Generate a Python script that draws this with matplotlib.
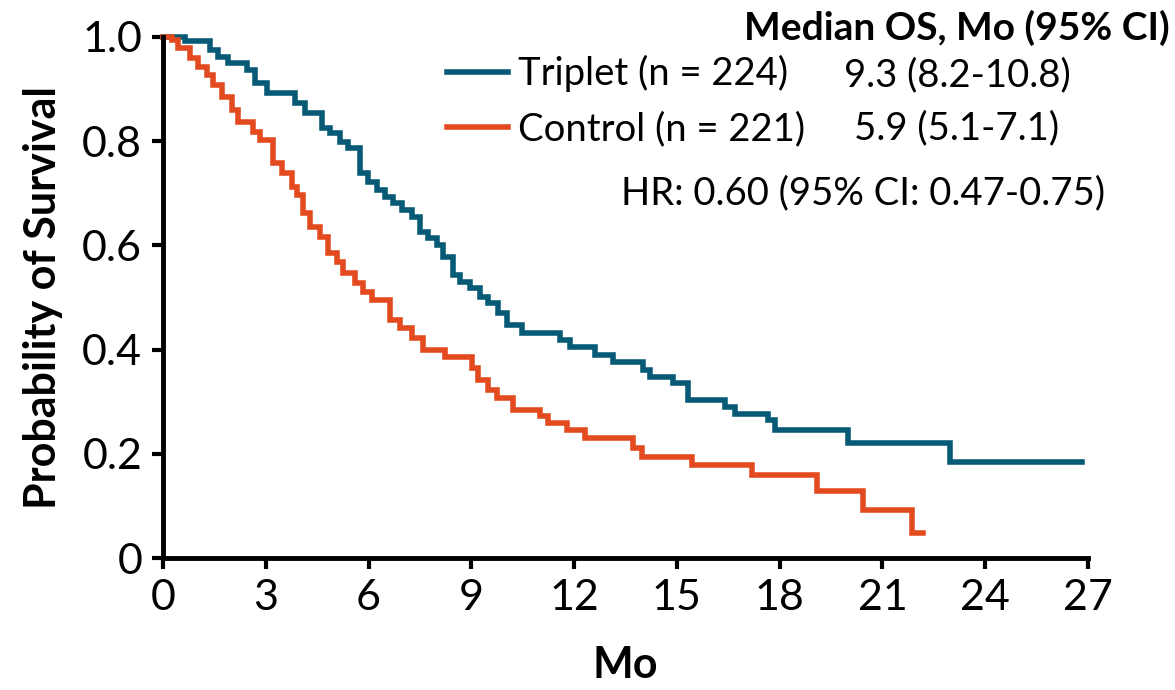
import numpy as np
import matplotlib
matplotlib.use("Agg")
import matplotlib.pyplot as plt

plt.rcParams['font.family'] = ['Lato', 'DejaVu Sans']

# Kaplan-Meier steps: month of each drop, survival after it
trip_t = [0, 0.64, 1.37, 1.61, 1.90, 2.45, 2.69, 3.04, 3.85, 4.14, 4.64, 4.87,
          5.17, 5.40, 5.75, 5.98, 6.25, 6.48, 6.71, 6.98, 7.27, 7.50, 7.73,
          8.00, 8.17, 8.46, 8.67, 8.96, 9.25, 9.49, 9.78, 10.04, 10.48, 11.59,
          11.88, 12.61, 13.13, 14.01, 14.21, 14.89, 15.32, 16.40, 16.70,
          17.66, 17.86, 19.99, 22.97, 26.82]
trip_s = [1.0, 0.992, 0.975, 0.962, 0.950, 0.937, 0.912, 0.893, 0.873, 0.854,
          0.825, 0.816, 0.798, 0.787, 0.739, 0.722, 0.706, 0.693, 0.681, 0.668,
          0.655, 0.626, 0.614, 0.601, 0.578, 0.543, 0.530, 0.518, 0.501, 0.489,
          0.470, 0.447, 0.432, 0.418, 0.405, 0.390, 0.376, 0.361, 0.347, 0.336,
          0.303, 0.290, 0.276, 0.265, 0.246, 0.221, 0.184, 0.184]

ctrl_t = [0, 0.26, 0.44, 0.79, 1.02, 1.28, 1.46, 1.72, 2.01, 2.19, 2.63, 2.83,
          3.21, 3.47, 3.77, 3.91, 4.09, 4.29, 4.58, 4.82, 5.08, 5.25, 5.60,
          5.84, 6.10, 6.63, 6.92, 7.27, 7.59, 8.23, 9.02, 9.19, 9.49, 9.75,
          10.22, 11.00, 11.24, 11.79, 12.32, 13.72, 13.98, 15.44, 17.19,
          19.09, 20.43, 21.86, 22.18]
ctrl_s = [1.0, 0.994, 0.979, 0.960, 0.942, 0.927, 0.908, 0.885, 0.860, 0.837,
          0.818, 0.802, 0.758, 0.739, 0.712, 0.697, 0.662, 0.635, 0.616, 0.585,
          0.568, 0.547, 0.528, 0.511, 0.495, 0.457, 0.441, 0.422, 0.399, 0.386,
          0.365, 0.342, 0.322, 0.307, 0.284, 0.273, 0.259, 0.246, 0.230, 0.211,
          0.194, 0.179, 0.159, 0.129, 0.092, 0.048, 0.048]

labels = ['Triplet (n = 224)', 'Control (n = 221)']
medians = ['9.3 (8.2-10.8)', '5.9 (5.1-7.1)']
hr_text = 'HR: 0.60 (95% CI: 0.47-0.75)'
colors = ['#075a75', '#e34a1f']

xticks = np.arange(0, 28, 3)
yticks = [0, 0.2, 0.4, 0.6, 0.8, 1.0]
ytick_labels = ['0', '0.2', '0.4', '0.6', '0.8', '1.0']

fig = plt.figure(figsize=(11.75, 6.9), dpi=100)
ax = fig.add_axes([163/1175, 1-558/690, (1088-163)/1175, (558-37)/690])

ax.step(trip_t, trip_s, where='post', color=colors[0], lw=4, label=labels[0],
        clip_on=False, solid_joinstyle='miter')
ax.step(ctrl_t, ctrl_s, where='post', color=colors[1], lw=4, label=labels[1],
        clip_on=False, solid_joinstyle='miter')

ax.set_xlim(0, 27)
ax.set_ylim(0, 1.0)
ax.set_xticks(xticks)
ax.set_yticks(yticks)
ax.set_yticklabels(ytick_labels)
ax.spines['top'].set_visible(False)
ax.spines['right'].set_visible(False)
for s in ['left', 'bottom']:
    ax.spines[s].set_linewidth(3.5)
ax.tick_params(width=3, length=8, labelsize=31, pad=7)

ax.set_xlabel('Mo', fontsize=31, fontweight='bold', labelpad=20)
ax.set_ylabel('Probability of Survival', fontsize=31, fontweight='bold', labelpad=14)

leg = ax.legend(loc='upper left', bbox_to_anchor=(447/1175, 1-55/690),
                bbox_transform=fig.transFigure, frameon=False, fontsize=27.5,
                handlelength=1.6, handletextpad=0.25, labelspacing=0.5,
                borderpad=0, borderaxespad=0)
for h in leg.get_lines():
    h.set_linewidth(4)

fig.text(1170/1175, 1-28/690, 'Median OS, Mo (95% CI)', ha='right', va='center',
         fontsize=28, fontweight='bold')
fig.text(957/1175, 1-75/690, medians[0], ha='center', va='center', fontsize=27.5)
fig.text(957/1175, 1-128/690, medians[1], ha='center', va='center', fontsize=27.5)
fig.text(863/1175, 1-193/690, hr_text, ha='center', va='center', fontsize=27.5)

fig.savefig('out.png', dpi=100)
